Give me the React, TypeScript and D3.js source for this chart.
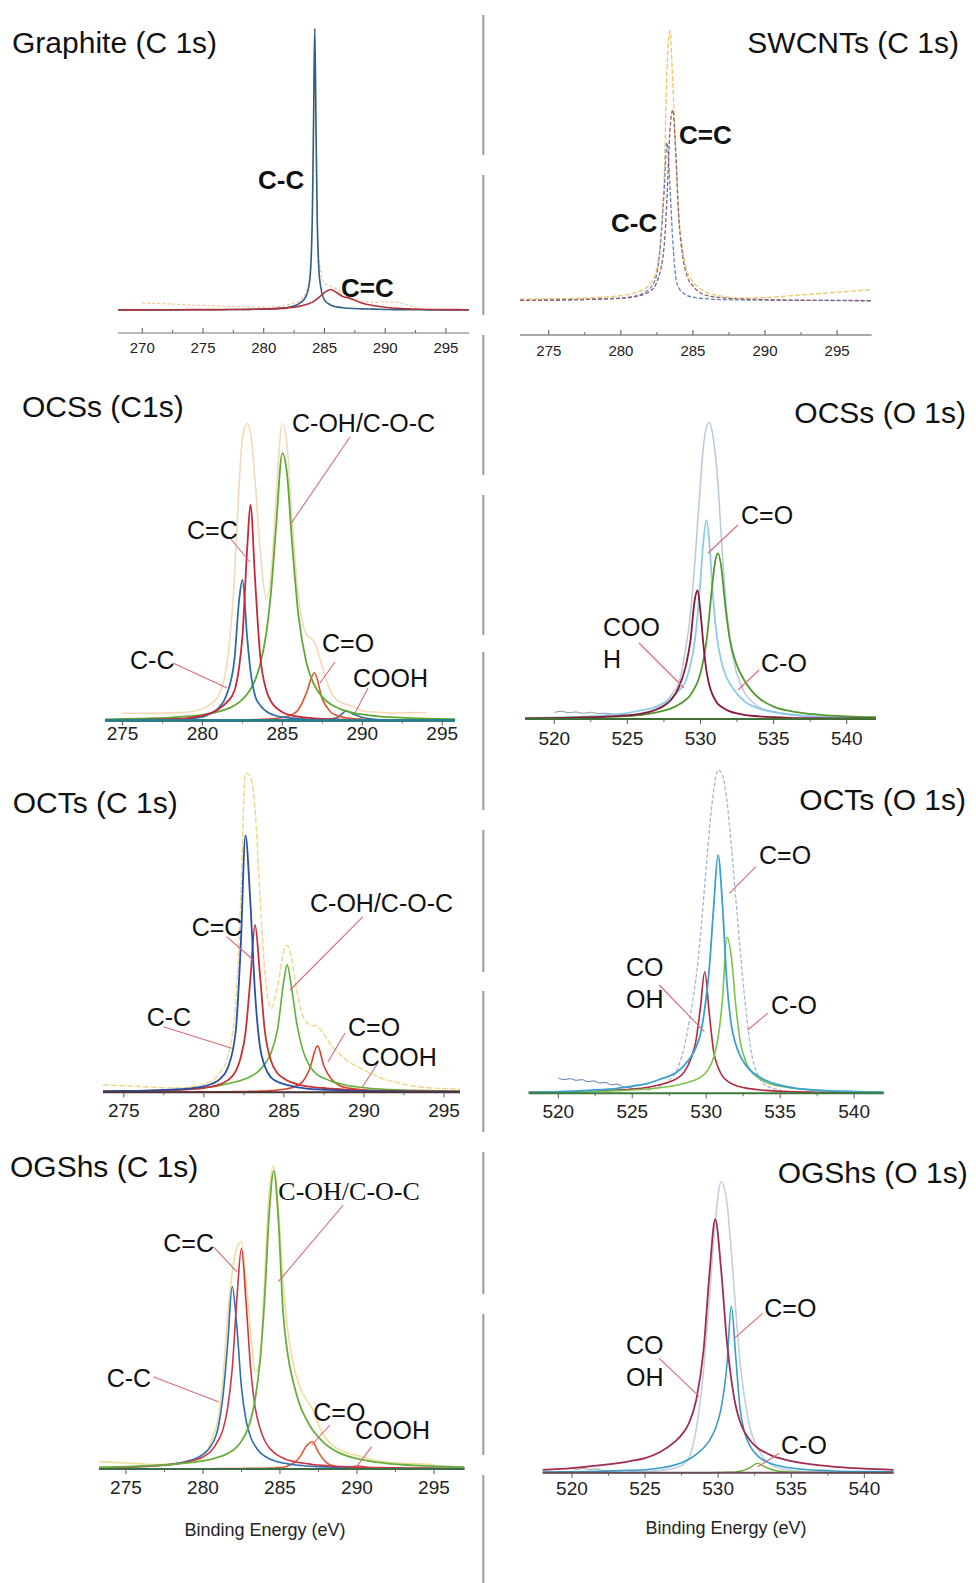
import React from 'react';
import * as d3 from 'd3';

// XPS spectra. intensities are relative (0-100 = panel height)

// Graphite C1s
const graphiteE = [268, 270, 272, 274, 276, 278, 280, 281, 282, 282.5, 283, 283.5, 283.8, 284.0, 284.1, 284.2, 284.3, 284.4, 284.6, 285, 285.5, 286, 286.5, 287, 288, 289, 290, 291, 292, 293, 294, 296, 296.9];
const graphiteEnv = [null, 2.5, 2.2, 1.8, 1.5, 1.2, 1.0, 1.2, 1.8, 2.5, 3.5, 6.5, 13, 35, 68, 100, 69, 37, 16, 9.5, 8.5, 7.5, 6, 4.5, 3.2, 2.8, 2.9, 2.7, 1.5, 0.3, null, null, null];
const graphiteCC = [0, 0, 0, 0.1, 0.1, 0.2, 0.3, 0.5, 0.9, 1.4, 2.5, 5, 11, 33, 66, 100, 66, 33, 11, 3.5, 1.8, 1.1, 0.8, 0.6, 0.4, 0.3, 0.2, 0.1, 0.1, 0.1, 0, 0, 0];
const graphiteCdC = [0.03, 0.05, 0.08, 0.12, 0.15, 0.18, 0.33, 0.49, 0.77, 1.0, 1.37, 1.93, 2.42, 2.8, 3.0, 3.3, 3.65, 3.97, 4.67, 6.2, 7.3, 6.2, 4.8, 4.3, 2.6, 1.6, 1.0, 0.6, 0.4, 0.25, 0.18, 0.12, 0.1];

// SWCNTs C1s
const swcntE = [273, 275, 277, 279, 280, 281, 282, 282.5, 283, 283.2, 283.4, 283.6, 283.8, 284, 284.3, 284.6, 285, 285.5, 286, 287, 288, 290, 292, 294, 296, 297.4];
const swcntEnv = [0.7, 0.8, 1.0, 1.5, 2, 3, 6, 12, 45, 85, 99, 80, 55, 33, 18, 11, 7, 4.5, 3, 1.8, 1.0, 1.3, 2.0, 2.8, 3.6, 4.2];
const swcntCC = [0.2, 0.3, 0.5, 0.8, 1.1, 1.8, 4.5, 10, 40, 58, 42, 22, 9, 5, 3, 2, 1.4, 1, 0.8, 0.5, 0.4, 0.3, 0.2, 0.2, 0.1, 0.1];
const swcntCdC = [0.2, 0.3, 0.5, 0.8, 1, 1.6, 3.5, 7, 20, 38, 62, 70, 55, 32, 16, 9, 5.5, 3, 2, 1.2, 0.8, 0.5, 0.3, 0.2, 0.2, 0.1];

// OCSs C1s
const ocsCE = [273.9, 275, 277, 278, 279, 280, 280.5, 281, 281.5, 282, 282.3, 282.5, 282.8, 283, 283.3, 283.6, 284, 284.3, 284.6, 285, 285.3, 285.6, 286, 286.5, 287, 287.5, 288, 288.5, 289, 289.5, 290, 291, 292, 293, 294, 295.8];
const ocsCEnv = [null, 2.5, 2.4, 2.6, 2.8, 4, 5.5, 8.5, 18, 48, 80, 95, 100, 97, 80, 58, 41, 50, 75, 100, 92, 68, 42, 29, 26.5, 18, 10, 6.5, 5.5, 4.5, 3.2, 2.8, 2.5, 2.7, 2.6, null];
const ocsCCC = [0.1, 0.14, 0.26, 0.38, 0.63, 1.23, 2.4, 4.2, 8.5, 20.6, 41, 47.3, 27.7, 16.9, 8.2, 5.2, 3.0, 2.15, 1.6, 1.15, 0.95, 0.8, 0.63, 0.47, 0.37, 0.3, 0.25, 0.2, 0.18, 0.15, 0.13, 0.1, 0.08, 0.07, 0.06, 0.05];
const ocsCCdC = [0.14, 0.18, 0.32, 0.46, 0.72, 1.7, 2.4, 3.8, 6, 10.0, 18.2, 28.4, 58.2, 72.7, 46.5, 22.4, 10.0, 6.3, 4.3, 2.8, 2.1, 1.67, 1.27, 0.94, 0.72, 0.57, 0.46, 0.38, 0.32, 0.27, 0.24, 0.18, 0.14, 0.11, 0.09, 0.07];
const ocsCCOH = [0.41, 0.5, 0.77, 1.0, 1.36, 1.93, 2.37, 2.97, 3.81, 5.08, 6.18, 7.1, 8.9, 10.5, 13.7, 18.7, 29.7, 44, 64.9, 90, 82.5, 60.2, 35.6, 19.5, 11.9, 7.85, 5.55, 4.12, 3.17, 2.52, 2.04, 1.42, 1.05, 0.8, 0.63, 0.44];
const ocsCCdO = [0.05, 0.06, 0.08, 0.09, 0.11, 0.13, 0.15, 0.16, 0.18, 0.2, 0.22, 0.23, 0.24, 0.25, 0.3, 0.36, 0.46, 0.58, 0.71, 1.02, 1.38, 1.99, 3.6, 9.2, 16.1, 7.2, 2.97, 1.52, 0.91, 0.6, 0.43, 0.25, 0.16, 0.11, 0.08, 0.05];
const ocsCCOOH = [0, 0, 0, 0, 0, 0, 0, 0, 0, 0, 0, 0, 0, 0, 0, 0, 0, 0, 0, 0, 0, 0, 0, 0, 0.1, 0.2, 0.5, 1.2, 3.2, 2.0, 1.0, 0.3, 0.1, 0, 0, 0];

// OCSs O1s
const ocsOE = [518, 520, 522, 524, 525, 526, 527, 527.5, 528, 528.5, 529, 529.3, 529.6, 529.8, 530, 530.2, 530.4, 530.6, 530.8, 531, 531.2, 531.4, 531.7, 532, 532.5, 533, 533.5, 534, 535, 536, 537, 538, 540, 542];
const ocsOEnv = [null, null, null, null, 1.2, 2, 3.5, 5, 8, 12, 24, 35, 52, 66, 80, 92, 98.5, 100, 97, 90, 79, 63, 42, 27, 15, 9, 6, 4, 2.5, 1.5, 1, 0.8, 0.5, 0.3];
const ocsORawE = [520, 520.5, 521, 521.5, 522, 522.5, 523, 523.5, 524, 524.5, 525];
const ocsORaw = [2.2, 2.6, 2.1, 2.4, 1.9, 2.3, 1.8, 2.0, 1.6, 1.7, 1.2];
const ocsOCdO = [0.3, 0.5, 0.8, 1.5, 2, 3, 4.2, 5.5, 7, 9.5, 13, 18, 26, 35, 47, 60, 67, 60, 45, 33, 25, 20, 15, 12, 8.5, 6, 4.5, 3.5, 2.3, 1.6, 1.1, 0.8, 0.5, 0.3];
const ocsOCO = [0.2, 0.3, 0.5, 0.8, 1.0, 1.4, 2.2, 2.8, 3.6, 4.8, 6.5, 8, 10.5, 12.5, 15.5, 20, 26, 35, 45, 53, 56, 52, 38, 27, 18, 13, 9.5, 7, 4.2, 2.8, 2, 1.5, 0.9, 0.6];
const ocsOCOOH = [0.2, 0.3, 0.5, 0.9, 1.2, 1.8, 3.2, 4.5, 6.5, 10.5, 18, 26, 40, 43.5, 36, 25, 16.5, 11.5, 8.5, 6.5, 5, 4.2, 3.3, 2.6, 1.9, 1.4, 1.1, 0.9, 0.6, 0.4, 0.3, 0.25, 0.2, 0.1];

// OCTs C1s
const octCE = [273.7, 275, 277, 278, 279, 280, 280.5, 281, 281.5, 282, 282.3, 282.6, 282.9, 283.2, 283.5, 283.8, 284.2, 284.6, 285, 285.2, 285.5, 285.8, 286.2, 286.6, 287.1, 287.5, 288, 288.5, 289, 289.5, 290, 291, 292, 293, 294, 296];
const octCEnv = [2.2, 2.0, 1.5, 1.3, 1.5, 2.5, 3.5, 6, 11, 28, 58, 97, 96, 86, 60, 37, 25.5, 32, 43, 44.7, 40, 31, 23, 20.5, 20, 17.5, 14, 11.5, 9.5, 8, 6.8, 4.5, 3, 2, 1.4, 1];
const octCCC = [0.3, 0.4, 0.6, 0.8, 1.1, 1.8, 2.6, 4, 7.5, 19, 44, 78, 58, 30, 14, 8, 4.5, 3.2, 2.5, 2.2, 1.9, 1.6, 1.3, 1.05, 0.88, 0.78, 0.68, 0.58, 0.5, 0.45, 0.4, 0.32, 0.27, 0.22, 0.19, 0.15];
const octCCdC = [0.3, 0.35, 0.5, 0.65, 0.9, 1.3, 1.7, 2.4, 3.7, 6.5, 10.5, 18, 34, 50.8, 36, 19, 9.5, 5.8, 4.2, 3.6, 3.0, 2.5, 2.0, 1.7, 1.45, 1.3, 1.1, 0.95, 0.8, 0.7, 0.6, 0.5, 0.4, 0.35, 0.3, 0.25];
const octCCOH = [0.3, 0.4, 0.6, 0.75, 1.0, 1.4, 1.7, 2.1, 2.6, 3.2, 3.6, 4.1, 4.8, 5.6, 6.8, 8.5, 12, 19, 34, 38.7, 31, 21, 12.5, 8, 5.3, 4.3, 3.3, 2.6, 2.0, 1.7, 1.4, 1.0, 0.75, 0.6, 0.5, 0.35];
const octCCdO = [0.05, 0.06, 0.08, 0.09, 0.1, 0.12, 0.14, 0.16, 0.18, 0.2, 0.22, 0.25, 0.28, 0.3, 0.35, 0.4, 0.5, 0.7, 0.9, 1.1, 1.4, 2.0, 3.4, 7, 14.1, 8, 3.8, 2.0, 1.3, 1.0, 0.7, 0.4, 0.3, 0.2, 0.15, 0.1];
const octCCOOH = [0, 0, 0, 0, 0, 0, 0, 0, 0, 0, 0, 0, 0, 0, 0, 0, 0, 0, 0, 0, 0, 0, 0, 0, 0, 0, 0, 0, 0.3, 0.8, 0.6, 0.2, 0, 0, 0, 0];

// OCTs O1s
const octOE = [518, 520, 522, 524, 525, 526, 527, 527.5, 528, 528.5, 529, 529.3, 529.6, 529.9, 530.2, 530.5, 530.8, 531.1, 531.4, 531.7, 532, 532.3, 532.7, 533, 533.5, 534, 535, 536, 537, 538, 540, 542];
const octOEnv = [null, null, null, null, null, 1.0, 2.5, 4, 7, 14, 26, 35, 48, 64, 80, 93, 99.5, 98, 90, 76, 60, 44, 25, 14, 5.5, 2.5, 1, 0.5, 0.3, 0.2, 0.1, 0];
const octORawE = [520, 520.4, 520.8, 521.2, 521.6, 522, 522.4, 522.8, 523.2, 523.6, 524, 524.4, 524.8, 525.2];
const octORaw = [4.7, 4.2, 4.5, 4.0, 4.2, 3.6, 3.8, 3.2, 3.3, 2.6, 2.8, 2.0, 1.8, 1.2];
const octOCdO = [0.3, 0.5, 0.9, 1.5, 2.2, 3.0, 4.5, 5.3, 6.5, 8.5, 11.5, 14, 18, 26, 38, 57, 73.3, 58, 34, 21, 15, 11.5, 8.5, 7, 5.3, 4, 2.5, 1.6, 1.1, 0.8, 0.5, 0.3];
const octOCO = [0.2, 0.3, 0.5, 0.8, 1.0, 1.3, 1.8, 2.1, 2.5, 3.0, 3.7, 4.2, 4.9, 6.0, 7.8, 11, 17, 29, 48, 42, 27, 16, 9.5, 7, 4.8, 3.5, 2.2, 1.5, 1.1, 0.8, 0.5, 0.35];
const octOCOOH = [0.3, 0.4, 0.6, 1.0, 1.3, 1.8, 2.8, 3.5, 4.5, 6.5, 11, 16, 26, 37.4, 25, 13, 8, 5.3, 3.9, 3.0, 2.4, 2.0, 1.6, 1.4, 1.1, 0.9, 0.6, 0.45, 0.35, 0.3, 0.2, 0.15];

// OGShs C1s
const ogsCE = [273.25, 275, 277, 278, 279, 280, 280.5, 281, 281.3, 281.6, 281.9, 282.2, 282.5, 282.8, 283.1, 283.4, 283.7, 284, 284.3, 284.6, 284.9, 285.2, 285.5, 285.9, 286.3, 286.7, 287.1, 287.5, 288, 288.5, 289, 289.5, 290, 291, 292, 293, 294, 295, 296.97];
const ogsCEnv = [2.4, 2.0, 1.5, 1.8, 2.5, 3.5, 9, 17, 30, 50, 65, 73, 75, 62, 45, 32, 35, 62, 92, 100, 86, 62, 46, 34, 27, 23, 20, 14.5, 10, 7.5, 6, 5, 4.5, 3, 2.2, 1.9, 1.7, 1.5, null];
const ogsCCC = [0.4, 0.6, 1.1, 1.6, 2.6, 4.8, 7.5, 14, 24, 41, 60.2, 47, 27, 16, 10.5, 7.5, 5.5, 4.3, 3.4, 2.8, 2.3, 2.0, 1.7, 1.4, 1.2, 1.0, 0.9, 0.8, 0.7, 0.6, 0.5, 0.45, 0.4, 0.35, 0.3, 0.25, 0.2, 0.2, 0.15];
const ogsCCdC = [0.4, 0.6, 1.1, 1.5, 2.3, 4, 5.8, 9.5, 13, 20, 33, 56, 72.8, 55, 33, 20, 13.5, 9.5, 7, 5.5, 4.4, 3.6, 3.0, 2.5, 2.1, 1.8, 1.5, 1.3, 1.1, 0.95, 0.8, 0.7, 0.6, 0.5, 0.4, 0.35, 0.3, 0.25, 0.2];
const ogsCCOH = [0.6, 0.8, 1.2, 1.5, 2.0, 2.7, 3.2, 3.9, 4.4, 5.1, 6.0, 7.3, 9.2, 11.9, 16.2, 23.3, 35.4, 55.8, 84.2, 98.5, 82, 52, 38, 28, 21, 16.5, 13, 10.5, 8, 6.3, 5, 4.1, 3.4, 2.4, 1.8, 1.4, 1.1, 0.9, 0.6];
const ogsCCdO = [0.05, 0.05, 0.06, 0.07, 0.08, 0.1, 0.1, 0.12, 0.13, 0.14, 0.15, 0.16, 0.17, 0.19, 0.2, 0.22, 0.24, 0.27, 0.3, 0.35, 0.45, 0.6, 1.0, 2.0, 4, 7.5, 9, 5.5, 2.2, 1.0, 0.5, 0.3, 0.2, 0.1, 0.08, 0.06, 0.05, 0.04, 0.03];
const ogsCCOOH = [0, 0, 0, 0, 0, 0, 0, 0, 0, 0, 0, 0, 0, 0, 0, 0, 0, 0, 0, 0, 0, 0, 0, 0, 0, 0, 0, 0, 0, 0, 0.3, 0.6, 1.0, 0.3, 0, 0, 0, 0, 0];

// OGShs O1s
const ogsOE = [518, 520, 522, 524, 525, 526, 527, 527.5, 528, 528.5, 529, 529.4, 529.8, 530.2, 530.6, 530.9, 531.2, 531.5, 531.8, 532.2, 532.7, 533.2, 533.7, 534.2, 535, 536, 537, 538, 540, 542];
const ogsOEnv = [null, null, null, 0.5, 0.5, 0.8, 1.5, 2.5, 5, 15, 35, 60, 86, 100, 93, 76, 56, 38, 26, 15, 8.5, 4.5, 2.5, 1.5, 0.8, 0.4, 0.2, 0.1, 0, 0];
const ogsORawE = [520, 520.4, 520.8, 521.2, 521.6, 522, 522.4];
const ogsORaw = [1.4, 1.2, 1.5, 1.1, 1.3, 0.9, 0.6];
const ogsOCOOH = [1.0, 1.6, 2.6, 4.0, 5.0, 7.0, 10.5, 13, 17, 25, 42, 68, 87.1, 70, 45, 32, 23, 17.5, 14, 11, 8.5, 7, 5.8, 5, 4, 3.1, 2.5, 2.0, 1.4, 1.0];
const ogsOCdO = [0.2, 0.3, 0.5, 0.8, 1.0, 1.6, 2.6, 3.4, 4.6, 6.3, 8.5, 11, 15, 22, 37, 57.3, 40, 22, 14, 9, 5.8, 4, 3, 2.3, 1.6, 1.1, 0.8, 0.6, 0.4, 0.3];
const ogsOCO = [0, 0, 0, 0, 0, 0, 0, 0, 0, 0, 0, 0, 0.05, 0.1, 0.15, 0.2, 0.3, 0.5, 0.9, 1.8, 3.2, 2.0, 1.0, 0.5, 0.25, 0.1, 0.05, 0, 0, 0];

// axis ticks
const ticksG = [270, 275, 280, 285, 290, 295];
const ticksC = [275, 280, 285, 290, 295];
const ticksO = [520, 525, 530, 535, 540];

const SANS = 'Liberation Sans, Arial, Helvetica, sans-serif';
const SERIF = 'Liberation Serif, Times New Roman, serif';

type Curve = { e: number[]; v: (number | null)[]; color: string; w: number; dash?: string; op?: number };
type Label = { lines: string[]; x: number; y: number; leader?: number[]; bold?: boolean; serif?: boolean; size?: number };
type PanelCfg = {
  title: string; titleX: number; titleY: number; titleAnchor: 'start' | 'end';
  domain: [number, number]; range: [number, number];
  base: number; top: number; axisY: number; axisColor: string; axisW: number;
  ticks: number[]; tickDir: number; tickLabelY: number; tickSize: number;
  curves: Curve[]; labels: Label[]; xlabel?: [number, number];
};

const leaderColor = '#d86a78';

const panels: PanelCfg[] = [
  {
    title: 'Graphite (C 1s)', titleX: 12, titleY: 53, titleAnchor: 'start',
    domain: [268, 296.9], range: [118, 469], base: 310, top: 28.3, axisY: 333, axisColor: '#777', axisW: 1.2,
    ticks: ticksG, tickDir: -1, tickLabelY: 347, tickSize: 15,
    curves: [
      { e: graphiteE, v: graphiteEnv, color: '#ecb77a', w: 1.2, dash: '3 2', op: 0.8 },
      { e: graphiteE, v: graphiteCC, color: '#2f5f86', w: 1.6 },
      { e: graphiteE, v: graphiteCdC, color: '#b3303a', w: 1.6 },
    ],
    labels: [
      { lines: ['C-C'], x: 258, y: 180, bold: true, size: 26 },
      { lines: ['C=C'], x: 341, y: 288, bold: true, size: 26 },
    ],
  },
  {
    title: 'SWCNTs (C 1s)', titleX: 959, titleY: 53, titleAnchor: 'end',
    domain: [273, 297.4], range: [520, 871.7], base: 301, top: 28, axisY: 335, axisColor: '#555', axisW: 1.2,
    ticks: ticksC, tickDir: -1, tickLabelY: 350, tickSize: 15,
    curves: [
      { e: swcntE, v: swcntEnv, color: '#f0c568', w: 1.3, dash: '5 2' },
      { e: swcntE, v: swcntCC, color: '#6b7fc4', w: 1.3, dash: '4 2' },
      { e: swcntE, v: swcntCdC, color: '#8f6070', w: 1.3, dash: '4 2' },
    ],
    labels: [
      { lines: ['C=C'], x: 679, y: 135, bold: true, size: 26 },
      { lines: ['C-C'], x: 611, y: 223, bold: true, size: 26 },
    ],
  },
  {
    title: 'OCSs (C1s)', titleX: 22, titleY: 417, titleAnchor: 'start',
    domain: [273.9, 295.8], range: [105, 455], base: 720.5, top: 423.5, axisY: 720.5, axisColor: '#2b7d8c', axisW: 3,
    ticks: ticksC, tickDir: 1, tickLabelY: 733, tickSize: 19,
    curves: [
      { e: ocsCE, v: ocsCEnv, color: '#f3d9b8', w: 1.6 },
      { e: ocsCE, v: ocsCCOOH, color: '#2f6fa6', w: 1.6 },
      { e: ocsCE, v: ocsCCdO, color: '#e0502a', w: 1.6 },
      { e: ocsCE, v: ocsCCOH, color: '#5fa832', w: 1.8 },
      { e: ocsCE, v: ocsCCC, color: '#2f6fa6', w: 1.8 },
      { e: ocsCE, v: ocsCCdC, color: '#c8283a', w: 1.8 },
    ],
    labels: [
      { lines: ['C-C'], x: 130, y: 660, leader: [173, 663, 227, 688] },
      { lines: ['C=C'], x: 187, y: 530, leader: [230, 538, 250, 562] },
      { lines: ['C-OH/C-O-C'], x: 292, y: 423, leader: [350, 437, 290, 525] },
      { lines: ['C=O'], x: 322, y: 643, leader: [335, 662, 320, 683] },
      { lines: ['COOH'], x: 353, y: 678, leader: [368, 688, 355, 713] },
    ],
  },
  {
    title: 'OCSs (O 1s)', titleX: 966, titleY: 423, titleAnchor: 'end',
    domain: [518, 542], range: [525, 876], base: 719, top: 422.7, axisY: 719, axisColor: '#3f6f35', axisW: 2,
    ticks: ticksO, tickDir: 1, tickLabelY: 738, tickSize: 19,
    curves: [
      { e: ocsORawE, v: ocsORaw, color: '#8a9ab0', w: 1 },
      { e: ocsOE, v: ocsOEnv, color: '#b9c9dc', w: 1.5 },
      { e: ocsOE, v: ocsOCdO, color: '#8fcbe8', w: 1.8 },
      { e: ocsOE, v: ocsOCO, color: '#4f9a2e', w: 1.8 },
      { e: ocsOE, v: ocsOCOOH, color: '#8a1838', w: 1.8 },
    ],
    labels: [
      { lines: ['C=O'], x: 741, y: 515, leader: [738, 525, 708, 553] },
      { lines: ['COO', 'H'], x: 603, y: 627, leader: [639, 643, 684, 688] },
      { lines: ['C-O'], x: 761, y: 663, leader: [759, 670, 738, 690] },
    ],
  },
  {
    title: 'OCTs (C 1s)', titleX: 12.7, titleY: 813, titleAnchor: 'start',
    domain: [273.7, 296], range: [103, 460], base: 1092.3, top: 763, axisY: 1092.3, axisColor: '#4a3434', axisW: 2,
    ticks: ticksC, tickDir: 1, tickLabelY: 1110, tickSize: 19,
    curves: [
      { e: octCE, v: octCEnv, color: '#f0d68a', w: 1.4, dash: '6 2' },
      { e: octCE, v: octCCOOH, color: '#4a6aa8', w: 1.2 },
      { e: octCE, v: octCCdO, color: '#d8402a', w: 1.6 },
      { e: octCE, v: octCCOH, color: '#5cb234', w: 1.6 },
      { e: octCE, v: octCCdC, color: '#cc2f32', w: 1.8 },
      { e: octCE, v: octCCC, color: '#2a4fa8', w: 1.8 },
    ],
    labels: [
      { lines: ['C=C'], x: 191.7, y: 926.7, leader: [226.7, 936.7, 253.3, 960] },
      { lines: ['C-OH/C-O-C'], x: 310, y: 903.3, leader: [363, 916.7, 290, 990] },
      { lines: ['C-C'], x: 146.7, y: 1016.7, leader: [163.3, 1026.7, 231.7, 1048.3] },
      { lines: ['C=O'], x: 348, y: 1026.7, leader: [345, 1033, 328, 1061.7] },
      { lines: ['COOH'], x: 361.7, y: 1056.7, leader: [378, 1063, 361.7, 1088] },
    ],
  },
  {
    title: 'OCTs (O 1s)', titleX: 966, titleY: 810, titleAnchor: 'end',
    domain: [518, 542], range: [528.7, 883.7], base: 1093.3, top: 768.3, axisY: 1093.3, axisColor: '#3a7a3a', axisW: 2,
    ticks: ticksO, tickDir: 1, tickLabelY: 1111.7, tickSize: 19,
    curves: [
      { e: octORawE, v: octORaw, color: '#5a7ac0', w: 1 },
      { e: octOE, v: octOEnv, color: '#a9b5d8', w: 1.3, dash: '4 2' },
      { e: octOE, v: octOCOOH, color: '#b02a3e', w: 1.6 },
      { e: octOE, v: octOCO, color: '#7cc24a', w: 1.6 },
      { e: octOE, v: octOCdO, color: '#3aa2d2', w: 1.8 },
    ],
    labels: [
      { lines: ['C=O'], x: 759, y: 855, leader: [756, 866.7, 729.3, 893.3] },
      { lines: ['CO', 'OH'], x: 626, y: 966.7, leader: [659.3, 985, 704.3, 1031.7] },
      { lines: ['C-O'], x: 771, y: 1005, leader: [767.7, 1013.3, 747.7, 1030] },
    ],
  },
  {
    title: 'OGShs (C 1s)', titleX: 10, titleY: 1176.7, titleAnchor: 'start',
    domain: [273.25, 296.97], range: [99, 464.3], base: 1469, top: 1166, axisY: 1469, axisColor: '#3d6e4a', axisW: 2,
    ticks: ticksC, tickDir: 1, tickLabelY: 1487.3, tickSize: 19,
    curves: [
      { e: ogsCE, v: ogsCEnv, color: '#f2dc9c', w: 1.6 },
      { e: ogsCE, v: ogsCCOOH, color: '#d04040', w: 1.2 },
      { e: ogsCE, v: ogsCCdO, color: '#e4582a', w: 1.6 },
      { e: ogsCE, v: ogsCCC, color: '#2f6db5', w: 1.6 },
      { e: ogsCE, v: ogsCCdC, color: '#cf3644', w: 1.6 },
      { e: ogsCE, v: ogsCCOH, color: '#68ad3e', w: 1.8 },
    ],
    labels: [
      { lines: ['C=C'], x: 163.3, y: 1243.3, leader: [213.3, 1246.7, 236.7, 1271.7] },
      { lines: ['C-OH/C-O-C'], x: 278.3, y: 1191.7, serif: true, size: 26, leader: [343.3, 1205, 278.3, 1281.7] },
      { lines: ['C-C'], x: 106.7, y: 1378.3, leader: [153.3, 1376.7, 218.3, 1401.7] },
      { lines: ['C=O'], x: 313.3, y: 1411.7, leader: [330, 1425, 311.7, 1445] },
      { lines: ['COOH'], x: 355, y: 1430, leader: [371.7, 1446.7, 356.7, 1466.7] },
    ],
    xlabel: [265, 1530],
  },
  {
    title: 'OGShs (O 1s)', titleX: 967.7, titleY: 1183.3, titleAnchor: 'end',
    domain: [518, 542], range: [542.7, 893.6], base: 1472.7, top: 1181.7, axisY: 1472.7, axisColor: '#6a4a5a', axisW: 2,
    ticks: ticksO, tickDir: 1, tickLabelY: 1488.3, tickSize: 19,
    curves: [
      { e: ogsORawE, v: ogsORaw, color: '#9a9a9a', w: 1 },
      { e: ogsOE, v: ogsOEnv, color: '#c3cfdb', w: 1.6 },
      { e: ogsOE, v: ogsOCO, color: '#6bb03a', w: 1.4 },
      { e: ogsOE, v: ogsOCdO, color: '#3a9ccb', w: 1.6 },
      { e: ogsOE, v: ogsOCOOH, color: '#a02c52', w: 1.8 },
    ],
    labels: [
      { lines: ['C=O'], x: 764.3, y: 1308.3, leader: [762.7, 1313.3, 734.3, 1338.3] },
      { lines: ['CO', 'OH'], x: 626, y: 1345, leader: [659.3, 1358.3, 699.3, 1396.7] },
      { lines: ['C-O'], x: 781, y: 1445, leader: [779.3, 1453.3, 757.7, 1466.7] },
    ],
    xlabel: [726, 1528],
  },
];

// the dashed grey divider down the middle
const dividerSegs = [[15, 155], [175, 315], [335, 475], [495, 635], [652, 810], [830, 972], [991, 1132], [1152, 1294], [1314, 1455], [1475, 1583]];

function Panel({ p }: { p: PanelCfg }) {
  const x = d3.scaleLinear().domain(p.domain).range(p.range);
  const y = d3.scaleLinear().domain([0, 100]).range([p.base, p.top]);

  const minor = p.ticks.map(t => t + 2.5).concat([p.ticks[0] - 2.5])
    .filter(t => t > p.domain[0] && t < p.domain[1]);

  return (
    <g>
      <text x={p.titleX} y={p.titleY} textAnchor={p.titleAnchor} fontFamily={SANS} fontSize={30} fill="#111">{p.title}</text>

      {p.curves.map((c, i) => {
        const pts = c.e.map((e, j) => [e, c.v[j]] as [number, number | null]);
        const line = d3.line<[number, number | null]>()
          .defined(d => d[1] != null)
          .x(d => x(d[0]))
          .y(d => y(d[1] as number))
          .curve(d3.curveMonotoneX);
        return (
          <path key={i} d={line(pts) || ''} fill="none" stroke={c.color} strokeWidth={c.w}
            strokeDasharray={c.dash} strokeOpacity={c.op ?? 1} strokeLinejoin="round" />
        );
      })}

      <line x1={p.range[0]} x2={p.range[1]} y1={p.axisY} y2={p.axisY} stroke={p.axisColor} strokeWidth={p.axisW} />
      {p.ticks.map(t => (
        <g key={'t' + t}>
          <line x1={x(t)} x2={x(t)} y1={p.axisY} y2={p.axisY + p.tickDir * 5} stroke="#555" strokeWidth={1} />
          <text x={x(t)} y={p.tickLabelY} textAnchor="middle" dominantBaseline="central"
            fontFamily={SANS} fontSize={p.tickSize} fill="#222">{t}</text>
        </g>
      ))}
      {minor.map(t => (
        <line key={'m' + t} x1={x(t)} x2={x(t)} y1={p.axisY} y2={p.axisY + p.tickDir * 3} stroke="#666" strokeWidth={1} />
      ))}

      {p.labels.map((l, i) => (
        <g key={'l' + i}>
          {l.leader && (
            <line x1={l.leader[0]} y1={l.leader[1]} x2={l.leader[2]} y2={l.leader[3]} stroke={leaderColor} strokeWidth={1.1} />
          )}
          {l.lines.map((s, k) => (
            <text key={k} x={l.x} y={l.y + k * 32} dominantBaseline="central"
              fontFamily={l.serif ? SERIF : SANS} fontWeight={l.bold ? 'bold' : 'normal'}
              fontSize={l.size ?? 25} fill="#111">{s}</text>
          ))}
        </g>
      ))}

      {p.xlabel && (
        <text x={p.xlabel[0]} y={p.xlabel[1]} textAnchor="middle" dominantBaseline="central"
          fontFamily={SANS} fontSize={18} fill="#222">Binding Energy (eV)</text>
      )}
    </g>
  );
}

export default function App() {
  return (
    <svg width={976} height={1583} style={{ position: 'absolute', left: 0, top: 0, background: '#fff' }}>
      <rect x={0} y={0} width={976} height={1583} fill="#fff" />
      {dividerSegs.map((s, i) => (
        <line key={i} x1={483.3} x2={483.3} y1={s[0]} y2={s[1]} stroke="#9a9a9a" strokeWidth={2} />
      ))}
      {panels.map((p, i) => <Panel key={i} p={p} />)}
    </svg>
  );
}
